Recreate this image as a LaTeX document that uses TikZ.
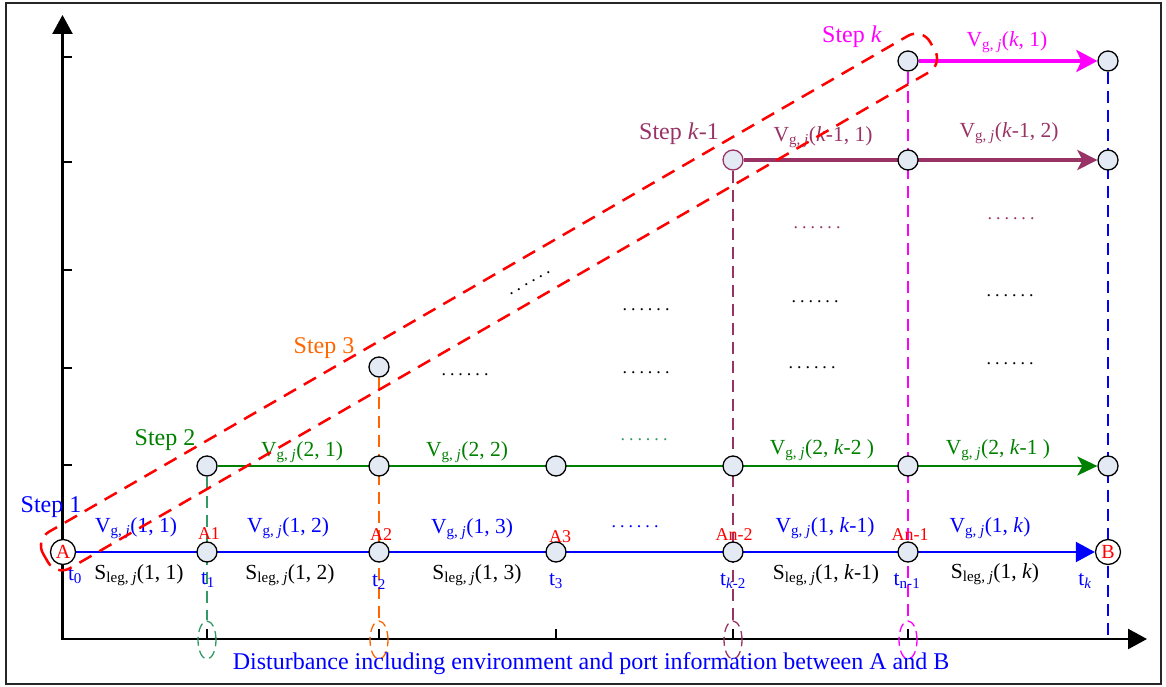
\documentclass[tikz,border=0pt]{standalone}
\usepackage{fontspec}
\setmainfont{Liberation Serif}
\usetikzlibrary{arrows.meta,shapes.geometric}
\definecolor{cblue}{RGB}{0,0,255}
\definecolor{cgreen}{RGB}{0,128,0}
\definecolor{cteal}{RGB}{51,153,102}
\definecolor{corange}{RGB}{255,102,0}
\definecolor{cpurple}{RGB}{153,51,102}
\definecolor{cmag}{RGB}{255,0,255}
\definecolor{cfill}{RGB}{228,234,244}
\newcommand\Vgj{V\textsubscript{g, \textit{j}}}
\newcommand\Sleg{S\textsubscript{leg, \textit{j}}}
\newcommand\sixdots{.\kern4pt.\kern4pt.\kern4pt.\kern4pt.\kern4pt.}
\pgfdeclarelayer{bg}
\pgfsetlayers{bg,main}
\tikzset{
  pt/.style={circle, draw=black, fill=cfill, line width=1.3pt, minimum size=20pt, inner sep=0pt},
  endpt/.style={circle, draw=black, fill=white, line width=1.3pt, minimum size=25pt, inner sep=0pt, text=red, font=\fontsize{20}{20}\selectfont},
  lbl/.style={font=\fontsize{21.5}{24}\selectfont, inner sep=0pt},
  steplbl/.style={font=\fontsize{24}{26}\selectfont, inner sep=0pt},
  alb/.style={font=\fontsize{18}{20}\selectfont, text=red, inner sep=0pt},
  dotlbl/.style={font=\fontsize{18}{20}\selectfont, inner sep=0pt},
  vdash/.style={dash pattern=on 12pt off 7pt, line width=1.5pt},
  ell/.style={ellipse, draw, dash pattern=on 9pt off 5pt, line width=1.3pt, minimum width=18pt, minimum height=38pt, inner sep=0pt},
  axis/.style={line width=2.5pt, black},
  tick/.style={line width=2pt, black},
  capsule/.style={red, line width=2.5pt, dash pattern=on 14pt off 9pt, rounded corners=16pt},
}
\begin{document}
\begin{tikzpicture}[x=1pt,y=-1pt]
\useasboundingbox (0,0) rectangle (1166,687);
\draw[line width=1.5pt, black!85] (6,3) rectangle (1161,684);

% axes
\coordinate (Ytop) at (62.5,15);
\coordinate (Xend) at (1147,639);
\draw[axis, {Triangle[length=19pt,width=20pt]}-{Triangle[length=19pt,width=20pt]}] (Ytop) |- (Xend);
\foreach \y in {57,162,270,368,465} \draw[tick] (62.5,\y) -- ++(9,0);
\foreach \x in {207,379,556,733,908} \draw[tick] (\x,639) -- ++(0,-10);

% nodes
\node[endpt] (A) at (63,552) {A};
\node[pt] (A1) at (207,552) {};
\node[pt] (A2) at (379,552) {};
\node[pt] (A3) at (556,552) {};
\node[pt] (An2) at (733,552) {};
\node[pt] (An1) at (908,552) {};
\node[endpt] (B) at (1108,552) {B};

\node[pt] (r21) at (207,466) {};
\node[pt] (r22) at (379,466) {};
\node[pt] (r23) at (556,466) {};
\node[pt] (r24) at (733,466) {};
\node[pt] (r25) at (908,466) {};
\node[pt] (r26) at (1108,466) {};

\node[pt] (s3n) at (379,367) {};

\node[pt, draw=cpurple] (rk1a) at (733,160) {};
\node[pt] (rk1b) at (908,160) {};
\node[pt] (rk1c) at (1108,160) {};

\node[pt] (rka) at (908,61) {};
\node[pt] (rkb) at (1108,61) {};

% bottom ellipses
\node[ell, draw=cteal] (e1) at (207,640) {};
\node[ell, draw=corange] (e2) at (379,640) {};
\node[ell, draw=cpurple] (e3) at (733,640) {};
\node[ell, draw=cmag] (e4) at (908,640) {};
\coordinate (Bbot) at (1108,637);

\begin{pgfonlayer}{bg}
\draw[vdash, cteal] (r21) -- (e1);
\draw[vdash, corange] (s3n) -- (e2);
\draw[vdash, cpurple] (rk1a) -- (e3);
\draw[vdash, cmag] (rka) -- (e4);
\draw[vdash, cblue] (rkb) -- (Bbot);
\draw[cblue, line width=2pt, -{Triangle[length=19pt,width=20pt]}] (A) -- (B);
\draw[cgreen, line width=2pt, -{Stealth[length=20pt,width=19pt,inset=5pt]}] (r21) -- (r26);
\draw[cpurple, line width=3.5pt, -{Stealth[length=20pt,width=20pt,inset=5pt]}] (rk1a) -- (rk1c);
\draw[cmag, line width=4pt, -{Stealth[length=21pt,width=22pt,inset=5pt]}] (rka) -- (rkb);
\end{pgfonlayer}

% step labels
\node[steplbl, text=cblue] (st1) at (51,507) {Step 1};
\node[steplbl, text=cgreen] (st2) at (165,440) {Step 2};
\node[steplbl, text=corange] (st3) at (324,348) {Step 3};
\node[steplbl, text=cpurple] (stk1) at (679,134) {Step \textit{k}-1};
\node[steplbl, text=cmag] (stk) at (852,37) {Step \textit{k}};

% row 1 labels
\node[lbl, text=cblue] (v11) at (136,528) {\Vgj(1, 1)};
\node[lbl, text=cblue] (v12) at (288,528) {\Vgj(1, 2)};
\node[lbl, text=cblue] (v13) at (472,529) {\Vgj(1, 3)};
\node[dotlbl, text=cblue] (d1) at (635,527) {\sixdots};
\node[lbl, text=cblue] (v1k1) at (825,528) {\Vgj(1, \textit{k}-1)};
\node[lbl, text=cblue] (v1k) at (990,528) {\Vgj(1, \textit{k})};

\node[alb] (la1) at (209,534) {A1};
\node[alb] (la2) at (381,535) {A2};
\node[alb] (la3) at (560,537) {A3};
\node[alb] (lan2) at (734,535) {An-2};
\node[alb] (lan1) at (910,535) {An-1};

\node[lbl, text=cblue] (t0) at (75,576) {t\textsubscript{0}};
\node[lbl] (s11) at (139,575) {\Sleg(1, 1)};
\node[lbl, text=cblue] (t1) at (208,580) {t\textsubscript{1}};
\node[lbl] (s12) at (290,575) {\Sleg(1, 2)};
\node[lbl, text=cblue] (t2) at (379,582) {t\textsubscript{2}};
\node[lbl] (s13) at (477,575) {\Sleg(1, 3)};
\node[lbl, text=cblue] (t3) at (556,581) {t\textsubscript{3}};
\node[lbl, text=cblue] (tk2) at (733,581) {t\textsubscript{\textit{k}-2}};
\node[lbl] (s1k1) at (826,575) {\Sleg(1, \textit{k}-1)};
\node[lbl, text=cblue] (tn1) at (907,581) {t\textsubscript{n-1}};
\node[lbl] (s1k) at (995,574) {\Sleg(1, \textit{k})};
\node[lbl, text=cblue] (tk) at (1085,581) {t\textsubscript{\textit{k}}};

% row 2 labels
\node[lbl, text=cgreen] (v21) at (302,452) {\Vgj(2, 1)};
\node[lbl, text=cgreen] (v22) at (467,452) {\Vgj(2, 2)};
\node[dotlbl, text=cteal] (d2) at (644,440) {\sixdots};
\node[lbl, text=cgreen] (v2k2) at (822,450) {\Vgj(2, \textit{k}-2 )};
\node[lbl, text=cgreen] (v2k1) at (998,450) {\Vgj(2, \textit{k}-1 )};

% upper rows labels
\node[lbl, text=cpurple] (vk11) at (823,137) {\Vgj(\textit{k}-1, 1)};
\node[lbl, text=cpurple] (vk12) at (1009,133) {\Vgj(\textit{k}-1, 2)};
\node[lbl, text=cmag] (vk1) at (1007,42) {\Vgj(\textit{k}, 1)};

% dots
\node[dotlbl, rotate=30] (dd) at (530,283) {\sixdots};
\node[dotlbl] (d3) at (465,375) {\sixdots};
\node[dotlbl] (d4) at (646,310) {\sixdots};
\node[dotlbl] (d5) at (646,373) {\sixdots};
\node[dotlbl, text=cpurple] (d6) at (817,228) {\sixdots};
\node[dotlbl] (d7) at (815,302) {\sixdots};
\node[dotlbl] (d8) at (812,368) {\sixdots};
\node[dotlbl, text=cpurple] (d9) at (1011,219) {\sixdots};
\node[dotlbl] (d10) at (1010,296) {\sixdots};
\node[dotlbl] (d11) at (1010,364) {\sixdots};

% bottom caption
\node[font=\fontsize{24}{26}\selectfont, text=cblue, inner sep=0pt] (cap) at (591,664) {Disturbance including environment and port information between A and B};

% red dashed capsule
\draw[capsule, rotate around={30:(489,302)}] (489-512,302-21) rectangle (489+512,302+21);
\end{tikzpicture}
\end{document}
